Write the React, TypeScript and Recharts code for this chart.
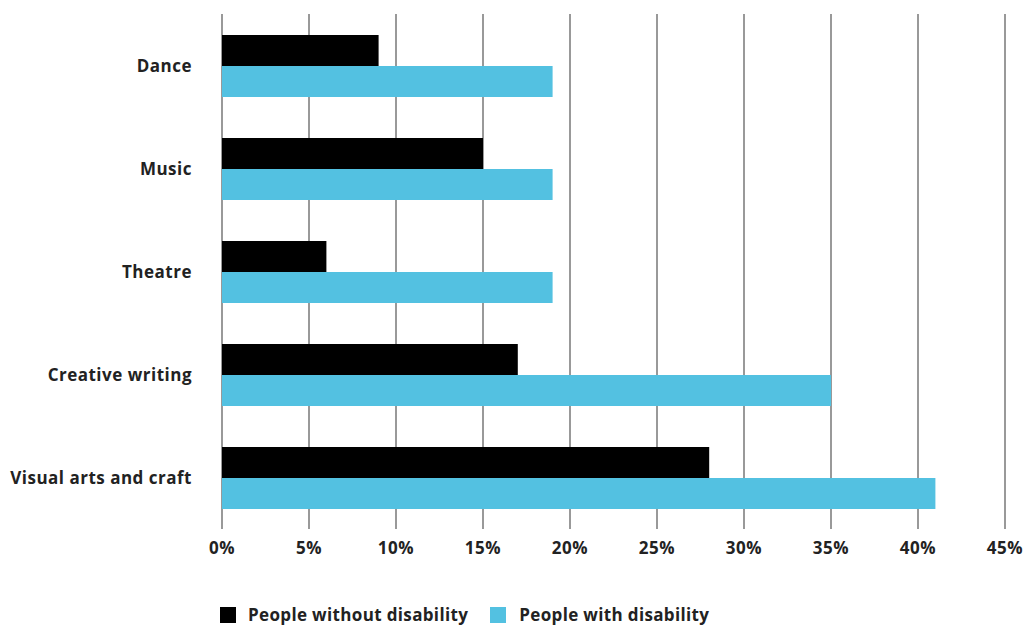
import React from "react";
import { BarChart, Bar, XAxis, YAxis, CartesianGrid, Legend } from "recharts";

const categories = ["Dance", "Music", "Theatre", "Creative writing", "Visual arts and craft"];
const withoutDisability = [9, 15, 6, 17, 28];
const withDisability = [19, 19, 19, 35, 41];
const xTicks = [0, 5, 10, 15, 20, 25, 30, 35, 40, 45];

const BLACK = "#000000";
const BLUE = "#53C1E1";
const FONT = "'Open Sans', Lato, sans-serif";
const tickStyle = { fill: "#222", fontFamily: FONT, fontWeight: 700, fontSize: 17, letterSpacing: 0.5 };

const data = categories.map((name, i) => ({
  name,
  without: withoutDisability[i],
  with: withDisability[i],
}));

const LegendContent = () => (
  <div style={{ display: "flex", alignItems: "center", paddingLeft: 220, paddingTop: 24, fontFamily: FONT, fontWeight: 700, fontSize: 17, letterSpacing: 0.35, color: "#222" }}>
    <span style={{ width: 16, height: 16, background: BLACK, display: "inline-block", marginRight: 12 }} />
    <span style={{ marginRight: 22 }}>People without disability</span>
    <span style={{ width: 16, height: 16, background: BLUE, display: "inline-block", marginRight: 13 }} />
    <span>People with disability</span>
  </div>
);

export default function App() {
  return (
    <div style={{ position: "absolute", left: 0, top: 0, width: 1027, height: 626, background: "#fff" }}>
      <BarChart
        width={1027}
        height={626}
        data={data}
        layout="vertical"
        barGap={0}
        margin={{ top: 14, right: 22, bottom: 0, left: 0 }}
      >
        <CartesianGrid horizontal={false} stroke="#555" strokeWidth={1.2} />
        <XAxis
          type="number"
          domain={[0, 45]}
          ticks={xTicks}
          tickFormatter={(v) => `${v}%`}
          axisLine={false}
          tickLine={false}
          tickSize={0}
          tickMargin={13}
          height={50}
          interval={0}
          tick={tickStyle}
        />
        <YAxis
          type="category"
          dataKey="name"
          width={222}
          axisLine={false}
          tickLine={false}
          tickSize={0}
          tickMargin={30}
          tick={tickStyle}
        />
        <Legend
          verticalAlign="bottom"
          content={<LegendContent />}
          wrapperStyle={{ left: 0, width: 1027, height: 47 }}
        />
        <Bar dataKey="without" name="People without disability" fill={BLACK} barSize={31} isAnimationActive={false} />
        <Bar dataKey="with" name="People with disability" fill={BLUE} barSize={31} isAnimationActive={false} />
      </BarChart>
    </div>
  );
}
